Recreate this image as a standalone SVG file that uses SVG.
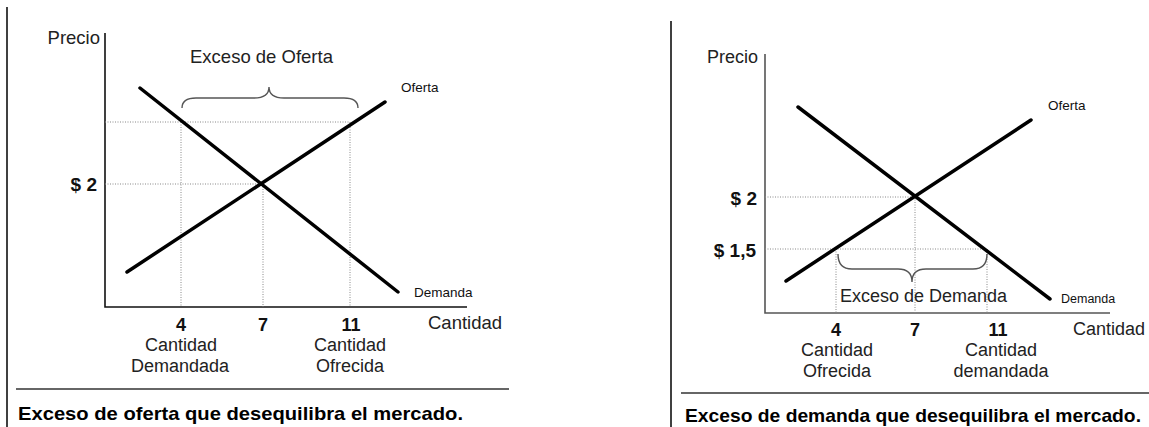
<svg xmlns="http://www.w3.org/2000/svg" width="1149" height="427" viewBox="0 0 1149 427">
<style>
text{font-family:"Liberation Sans",Arial,sans-serif;fill:#222}
.lbl{font-size:18px}
.sm{font-size:13.5px;fill:#111}
.num{font-size:18px;font-weight:bold;fill:#111}
.cur{font-size:19px;font-weight:bold;fill:#111}
.cap{font-size:19px;font-weight:bold;fill:#000}
.mid{text-anchor:middle}
.end{text-anchor:end}
.axis{stroke:#111;stroke-width:1.6;fill:none}
.axis2{stroke:#555;stroke-width:1.6;fill:none}
.dot{stroke:#888;stroke-width:1;stroke-dasharray:1 1.5;fill:none}
.curve{stroke:#000;stroke-width:3.5;stroke-linecap:round;fill:none}
.brace{stroke:#555;stroke-width:1.4;fill:none}
.frame{stroke:#000;stroke-width:1.5;fill:none}
.sep{stroke:#333;stroke-width:1.5}
</style>
<rect width="1149" height="427" fill="#fff"/>

<g id="left-panel">
  <line class="frame" x1="7" y1="7" x2="7" y2="427"/>
  <g id="left-axes">
    <polyline class="axis" points="105,33 105,307 467,307"/>
    <text class="lbl end" x="100" y="44" style="font-size:18.5px">Precio</text>
    <text class="lbl" x="428" y="329" style="font-size:18.5px">Cantidad</text>
  </g>
  <g id="left-guides">
    <line class="dot" x1="105" y1="122" x2="350" y2="122"/>
    <line class="dot" x1="105" y1="184" x2="263" y2="184"/>
    <line class="dot" x1="181" y1="122" x2="181" y2="307"/>
    <line class="dot" x1="263" y1="184" x2="263" y2="307"/>
    <line class="dot" x1="350" y1="122" x2="350" y2="307"/>
  </g>
  <g id="left-curves">
    <line class="curve" x1="140" y1="88" x2="398" y2="292"/>
    <line class="curve" x1="127" y1="272" x2="385" y2="102"/>
    <text class="sm" x="401" y="92">Oferta</text>
    <text class="sm" x="414" y="297">Demanda</text>
  </g>
  <g id="left-brace">
    <path class="brace" d="M182,108 Q182,98 196,98 L254,98 Q269,98 269,87 Q269,98 284,98 L344,98 Q358,98 358,108"/>
    <text class="lbl" x="190" y="63" style="font-size:18.5px">Exceso de Oferta</text>
  </g>
  <g id="left-ticks">
    <text class="cur end" x="97" y="191">$ 2</text>
    <text class="num mid" x="181" y="330.5">4</text>
    <text class="num mid" x="263" y="330.5">7</text>
    <text class="num mid" x="351" y="330.5">11</text>
    <text class="lbl mid" x="181" y="351">Cantidad</text>
    <text class="lbl mid" x="180" y="372">Demandada</text>
    <text class="lbl mid" x="350" y="351">Cantidad</text>
    <text class="lbl mid" x="350" y="372">Ofrecida</text>
  </g>
  <line class="sep" x1="16" y1="389" x2="509" y2="389"/>
  <text class="cap" x="18" y="420" textLength="445" lengthAdjust="spacingAndGlyphs">Exceso de oferta que desequilibra el mercado.</text>
</g>

<g id="right-panel">
  <line class="frame" x1="671" y1="21" x2="671" y2="427"/>
  <g id="right-axes">
    <polyline class="axis2" points="765,54 765,313 1110,313"/>
    <text class="lbl end" x="758" y="63">Precio</text>
    <text class="lbl" x="1073" y="335">Cantidad</text>
  </g>
  <g id="right-guides">
    <line class="dot" x1="765" y1="197" x2="915" y2="197"/>
    <line class="dot" x1="765" y1="249" x2="987" y2="249"/>
    <line class="dot" x1="836" y1="249" x2="836" y2="313"/>
    <line class="dot" x1="915" y1="197" x2="915" y2="313"/>
    <line class="dot" x1="987" y1="249" x2="987" y2="313"/>
  </g>
  <g id="right-curves">
    <line class="curve" x1="798" y1="107" x2="1050" y2="299"/>
    <line class="curve" x1="786" y1="281" x2="1031" y2="120"/>
    <text class="sm" x="1048" y="110">Oferta</text>
    <text class="sm" x="1061" y="303" style="font-size:12.5px">Demanda</text>
  </g>
  <g id="right-brace">
    <path class="brace" d="M838,254 Q838,269 852,269 L898,269 Q912,269 912,282 Q912,269 926,269 L973,269 Q987,269 987,254"/>
    <text class="lbl" x="840" y="302">Exceso de Demanda</text>
  </g>
  <g id="right-ticks">
    <text class="cur end" x="757" y="205">$ 2</text>
    <text class="cur end" x="756" y="257">$ 1,5</text>
    <text class="num mid" x="836" y="335.5">4</text>
    <text class="num mid" x="915" y="335.5">7</text>
    <text class="num mid" x="998" y="335.5">11</text>
    <text class="lbl mid" x="837" y="356">Cantidad</text>
    <text class="lbl mid" x="837" y="377">Ofrecida</text>
    <text class="lbl mid" x="1001" y="356">Cantidad</text>
    <text class="lbl mid" x="1001" y="377">demandada</text>
  </g>
  <line class="sep" x1="681" y1="393" x2="1149" y2="393"/>
  <text class="cap" x="685" y="422" textLength="456" lengthAdjust="spacingAndGlyphs">Exceso de demanda que desequilibra el mercado.</text>
</g>
</svg>
